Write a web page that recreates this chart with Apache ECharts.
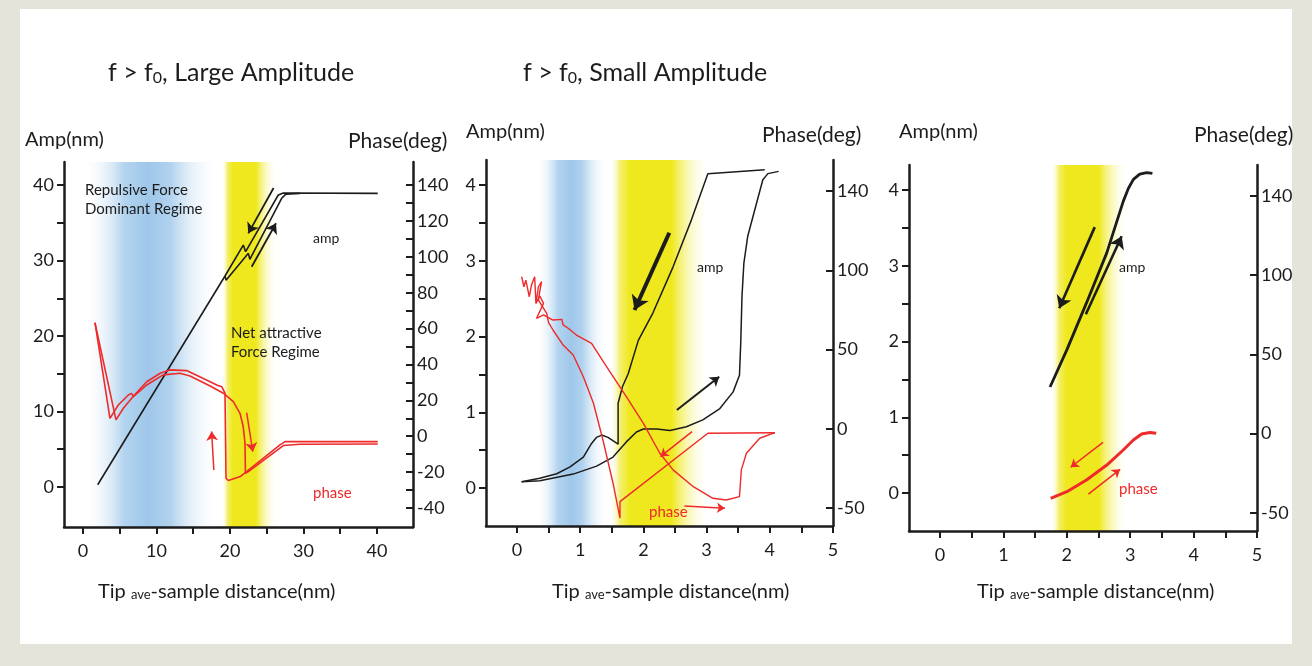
<!DOCTYPE html>
<html>
<head>
<meta charset="utf-8">
<script src="https://cdn.jsdelivr.net/npm/echarts@6/dist/echarts.min.js"></script>
<style>
html,body{margin:0;padding:0;background:#e5e4da;}
#chart{width:1312px;height:666px;}
</style>
</head>
<body>
<div id="chart"></div>
<script>
// ---------- tick values / labels ----------
const p1XTicks = [0,5,10,15,20,25,30,35,40];
const p1XLabels = [0,10,20,30,40];
const p1AmpTicks = [0,5,10,15,20,25,30,35,40];
const p1AmpLabels = [0,10,20,30,40];
const p1PhaseTicks = [-40,-30,-20,-10,0,10,20,30,40,50,60,70,80,90,100,110,120,130,140];
const p1PhaseLabels = [-40,-20,0,20,40,60,80,100,120,140];
const p23XTicks = [0,0.5,1,1.5,2,2.5,3,3.5,4,4.5,5];
const p23XLabels = [0,1,2,3,4,5];
const p23AmpTicks = [0,0.5,1,1.5,2,2.5,3,3.5,4];
const p23AmpLabels = [0,1,2,3,4];
const p23PhaseTickValues = [-50,0,50,100,150];
const p23PhaseTickLabels = ['-50','0','50','100','140'];

// ---------- shaded regimes (x ranges) ----------
const p1BlueBand = [0, 18.6];
const p1YellowBand = [18.9, 26.4];
const p2BlueBand = [0.3, 1.45];
const p2YellowBand = [1.47, 3.05];
const p3YellowBand = [1.75, 2.97];

// ---------- panel 1 : large amplitude ----------
const p1AmpApproach = [[2.0,0.3],[19.32,27.95],[21.81,32.05],[22.13,31.17],[26.57,38.68],[27.25,38.95],[40.1,38.9]];
const p1AmpRetract = [[19.32,27.95],[19.46,27.4],[22.5,30.95],[22.7,30.15],[27.03,38.24],[27.6,38.8],[29.5,38.9]];
const p1PhaseA = [[1.63,63.3],[3.67,10.0],[4.8,17.4],[6.17,23.0],[6.6,23.9],[6.85,22.3],[8.67,30.4],[10.5,35.1],[11.8,37.0],[14.1,36.6],[16.8,31.4],[18.2,28.6],[18.87,27.6],[19.32,24.0],[19.46,-23.4],[19.77,-24.7],[21.4,-22.5],[26.8,-4.8],[27.5,-3.0],[40.1,-3.0]];
const p1PhaseB = [[1.63,63.3],[4.49,9.1],[5.49,15.6],[6.62,21.2],[8.67,28.6],[10.9,34.2],[13.2,35.1],[14.56,33.6],[17.3,28.0],[19.1,24.0],[20.45,19.3],[21.36,12.8],[21.8,5.4],[22.04,-3.9],[22.1,-20.6],[22.5,-19.7],[27.25,-5.2],[29.5,-4.5],[40.1,-4.3]];
const p1AmpArrows = [[[25.93,39.6],[22.49,33.6]],[[22.95,29.18],[26.26,34.93]]];
const p1PhaseArrows = [[[17.8,-18.8],[17.5,2.6]],[[22.27,13.2],[23.1,-8.6]]];

// ---------- panel 2 : small amplitude ----------
const p2AmpLower = [[0.074,0.084],[0.363,0.097],[0.89,0.185],[1.26,0.29],[1.52,0.41],[1.73,0.61],[1.89,0.74],[2.0,0.78],[2.21,0.78],[2.42,0.76],[2.68,0.81],[2.94,0.90],[3.21,1.05],[3.42,1.27],[3.52,1.49],[3.54,1.91],[3.56,2.53],[3.59,2.97],[3.65,3.32],[3.79,3.76],[3.89,4.07],[3.97,4.15],[4.14,4.18]];
const p2AmpUpper = [[0.074,0.084],[0.36,0.13],[0.63,0.19],[0.84,0.28],[1.05,0.41],[1.18,0.59],[1.26,0.67],[1.34,0.70],[1.44,0.67],[1.60,0.58],[1.60,1.12],[1.67,1.34],[1.76,1.51],[1.92,1.95],[2.15,2.31],[2.47,2.92],[2.76,3.54],[3.02,4.15],[3.92,4.20]];
const p2PhaseLeft = [[0.074,96.0],[0.11,89.7],[0.14,93.9],[0.195,83.4],[0.23,90.8],[0.28,96.0],[0.30,79.2],[0.34,89.7],[0.39,92.9],[0.36,86.6],[0.34,81.3],[0.47,72.9],[0.50,67.0],[0.57,62.4],[0.73,52.9],[0.89,46.6],[0.92,45.5],[1.05,32.9],[1.21,16.2],[1.36,-7.0],[1.52,-34.3],[1.63,-56.4],[1.63,-45.9],[3.02,-2.8],[4.08,-2.4]];
const p2PhaseRight = [[0.30,79.2],[0.36,84.0],[0.42,79.2],[0.31,69.8],[0.42,71.9],[0.57,68.7],[0.71,69.1],[0.73,65.6],[0.81,63.5],[0.94,59.2],[1.13,55.0],[1.18,54.0],[1.42,39.2],[1.73,20.3],[2.0,3.5],[2.26,-15.4],[2.47,-25.9],[2.79,-36.5],[3.10,-43.8],[3.31,-44.9],[3.52,-42.8],[3.55,-25.9],[3.63,-15.4],[3.84,-5.9],[4.08,-2.4]];
const p2AmpArrowBig = [[[2.41,3.37],[1.86,2.35]]];
const p2AmpArrowSmall = [[[2.53,1.03],[3.20,1.47]]];
const p2PhaseArrows = [[[2.77,-1.7],[2.27,-17.5]],[[2.65,-48.6],[3.29,-50.1]]];

// ---------- panel 3 ----------
const p3Amp = [[1.735,1.40],[2.0,1.89],[2.31,2.51],[2.63,3.17],[2.89,3.85],[2.97,4.02],[3.05,4.14],[3.15,4.21],[3.26,4.23],[3.35,4.22]];
const p3Phase = [[1.745,-40.8],[2.0,-36.6],[2.31,-29.2],[2.63,-19.8],[2.89,-10.3],[3.05,-4.0],[3.18,-0.2],[3.31,0.8],[3.41,0.2]];
const p3AmpArrows = [[[2.44,3.51],[1.88,2.44]],[[2.30,2.36],[2.865,3.39]]];
const p3PhaseArrows = [[[2.57,-5.5],[2.06,-21.2]],[[2.34,-38.1],[2.84,-22.5]]];

// ---------- styling ----------
const FONT = 'Lato';
const INK = '#1c1c1c';
const RED = '#ee2a2a';
const BLUE = '#9fc7ea';
const YEL = '#efe81e';

const chart = echarts.init(document.getElementById('chart'));

function blueGrad(){
  return new echarts.graphic.LinearGradient(0,0,1,0,[
    {offset:0,color:'rgba(255,255,255,0)'},
    {offset:0.3,color:'#b3d4ef'},
    {offset:0.48,color:BLUE},
    {offset:0.64,color:'#b0d2ee'},
    {offset:1,color:'rgba(255,255,255,0)'}]);
}
function yelGrad(){
  return new echarts.graphic.LinearGradient(0,0,1,0,[
    {offset:0,color:'rgba(255,255,255,0)'},
    {offset:0.1,color:'#f4ef70'},
    {offset:0.2,color:YEL},
    {offset:0.62,color:YEL},
    {offset:1,color:'rgba(255,255,255,0)'}]);
}

function xAxisCfg(grid, min, max, ticks, labels){
  return {type:'value', gridIndex:grid, min:min, max:max, z:20,
    splitLine:{show:false},
    axisLine:{show:true, onZero:false, lineStyle:{color:INK,width:2.5}},
    axisTick:{show:true, inside:false, length:7, lineStyle:{color:INK,width:2}, customValues:ticks},
    axisLabel:{customValues:labels, margin:15, fontSize:18, fontFamily:FONT, color:INK}};
}
function yAxisCfg(grid, pos, min, max, ticks, labels, fmt){
  const right = pos === 'right';
  return {type:'value', gridIndex:grid, position:pos, min:min, max:max, z:20,
    splitLine:{show:false},
    axisLine:{show:true, onZero:false, lineStyle:{color:INK,width:2.5}},
    axisTick:{show:true, inside:right, length:7, lineStyle:{color:INK,width:2}, customValues:ticks},
    axisLabel:{customValues:labels, margin: right ? 4 : 10, fontSize:18, fontFamily:FONT, color:INK, formatter:fmt}};
}
function line(xi, yi, data, color, width){
  return {type:'line', xAxisIndex:xi, yAxisIndex:yi, data:data, showSymbol:false, symbol:'none',
    lineStyle:{color:color,width:width}, z:5, silent:true, animation:false};
}
function arrows(xi, yi, list, color, width, size){
  return {type:'lines', coordinateSystem:'cartesian2d', xAxisIndex:xi, yAxisIndex:yi,
    data:list.map(c => ({coords:c})), symbol:['none','arrow'], symbolSize:size,
    lineStyle:{color:color,width:width,opacity:1}, z:6, silent:true, animation:false};
}
function bands(xi, yi, list){
  return {type:'line', xAxisIndex:xi, yAxisIndex:yi, data:[], z:1, silent:true, animation:false,
    markArea:{silent:true, data:list.map(b => [{xAxis:b[0], itemStyle:{color:b[2]}},{xAxis:b[1]}])}};
}
const p23Fmt = v => { const i = p23PhaseTickValues.indexOf(v); return i >= 0 ? p23PhaseTickLabels[i] : ''; };

function txt(x, y, text, size, color, rich){
  return {type:'text', x:x, y:y, z:50, silent:true,
    style:{text:text, fontSize:size, fontFamily:FONT, fill:color||INK, verticalAlign:'middle', align:'left', rich:rich}};
}
const subRich = {s:{fontSize:16, fontFamily:FONT, fill:INK, verticalAlign:'bottom', padding:[7,0,0,0]}};
const aveRich = {a:{fontSize:13, fontFamily:FONT, fill:INK, padding:[5,0,0,0]}};

const option = {
  backgroundColor:'#e5e4da',
  animation:false,
  grid:[
    {left:64, top:162, width:349, height:365},
    {left:486, top:160, width:347, height:366},
    {left:909, top:165, width:348, height:366}
  ],
  xAxis:[
    xAxisCfg(0, -2.585, 44.9, p1XTicks, p1XLabels),
    xAxisCfg(1, -0.49, 5, p23XTicks, p23XLabels),
    xAxisCfg(2, -0.49, 5, p23XTicks, p23XLabels)
  ],
  yAxis:[
    yAxisCfg(0,'left',-5.3,43.05,p1AmpTicks,p1AmpLabels),
    yAxisCfg(0,'right',-50.6,152.9,p1PhaseTicks,p1PhaseLabels),
    yAxisCfg(1,'left',-0.5,4.33,p23AmpTicks,p23AmpLabels),
    yAxisCfg(1,'right',-61.3,169.7,p23PhaseTickValues,p23PhaseTickValues,p23Fmt),
    yAxisCfg(2,'left',-0.5,4.33,p23AmpTicks,p23AmpLabels),
    yAxisCfg(2,'right',-61.4,169.5,p23PhaseTickValues,p23PhaseTickValues,p23Fmt)
  ],
  graphic:[
    {type:'rect', shape:{x:20,y:9,width:1272,height:635}, style:{fill:'#ffffff'}, z:-100, silent:true},
    txt(108,73,'f > f{s|0}, Large Amplitude',25,INK,subRich),
    txt(523,73,'f > f{s|0}, Small Amplitude',25,INK,subRich),
    txt(25,140,'Amp(nm)',20), txt(348,141,'Phase(deg)',21),
    txt(466,132,'Amp(nm)',20), txt(762,135,'Phase(deg)',21),
    txt(899,132,'Amp(nm)',20), txt(1194,135,'Phase(deg)',21),
    txt(98,592,'Tip {a|ave}-sample distance(nm)',20,INK,aveRich),
    txt(552,592,'Tip {a|ave}-sample distance(nm)',20,INK,aveRich),
    txt(977,592,'Tip {a|ave}-sample distance(nm)',20,INK,aveRich),
    txt(85,190,'Repulsive Force',15), txt(85,209,'Dominant Regime',15),
    txt(231,333,'Net attractive',15), txt(231,352,'Force Regime',15),
    txt(313,238,'amp',14), txt(313,493,'phase',15,RED),
    txt(697,267,'amp',14), txt(649,512,'phase',15,RED),
    txt(1119,267,'amp',14), txt(1119,489,'phase',15,RED)
  ],
  series:[
    bands(0,0,[[p1BlueBand[0],p1BlueBand[1],blueGrad()],[p1YellowBand[0],p1YellowBand[1],yelGrad()]]),
    bands(1,2,[[p2BlueBand[0],p2BlueBand[1],blueGrad()],[p2YellowBand[0],p2YellowBand[1],yelGrad()]]),
    bands(2,4,[[p3YellowBand[0],p3YellowBand[1],yelGrad()]]),
    line(0,0,p1AmpApproach,INK,1.6),
    line(0,0,p1AmpRetract,INK,1.6),
    line(0,1,p1PhaseA,RED,1.6),
    line(0,1,p1PhaseB,RED,1.6),
    arrows(0,0,p1AmpArrows,INK,1.8,10),
    arrows(0,1,p1PhaseArrows,RED,1.5,9),
    line(1,2,p2AmpLower,INK,1.5),
    line(1,2,p2AmpUpper,INK,1.5),
    line(1,3,p2PhaseLeft,RED,1.4),
    line(1,3,p2PhaseRight,RED,1.4),
    arrows(1,2,p2AmpArrowBig,INK,4,14),
    arrows(1,2,p2AmpArrowSmall,INK,2,9),
    arrows(1,3,p2PhaseArrows,RED,1.5,8),
    line(2,4,p3Amp,INK,2.8),
    line(2,5,p3Phase,RED,3),
    arrows(2,4,p3AmpArrows,INK,2.6,12),
    arrows(2,5,p3PhaseArrows,RED,1.5,8)
  ]
};
chart.setOption(option);
</script>
</body>
</html>
